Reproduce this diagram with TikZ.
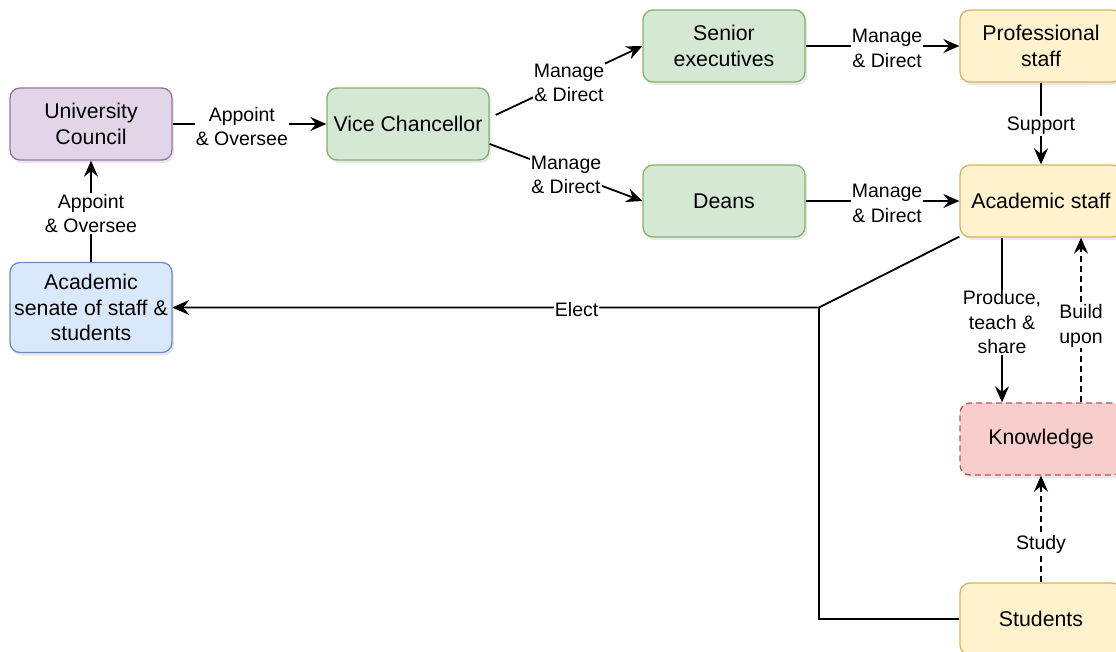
\documentclass[tikz,border=0pt]{standalone}
\usepackage{fontspec}
\setmainfont{Liberation Sans}
\usetikzlibrary{arrows.meta,shadows,calc}
\definecolor{pF}{HTML}{E1D5E7}\definecolor{pD}{HTML}{9673A6}
\definecolor{gF}{HTML}{D5E8D4}\definecolor{gD}{HTML}{82B366}
\definecolor{bF}{HTML}{DAE8FC}\definecolor{bD}{HTML}{6C8EBF}
\definecolor{yF}{HTML}{FFF2CC}\definecolor{yD}{HTML}{D6B656}
\definecolor{rF}{HTML}{F8CECC}\definecolor{rD}{HTML}{B85450}
\begin{document}
\begin{tikzpicture}[x=1pt,y=-1pt,
  box/.style={draw, rounded corners=10pt, line width=1.3pt, minimum width=162pt,
    minimum height=72pt, align=center, inner sep=2pt,
    font=\fontsize{21.3}{25.6}\selectfont,
    drop shadow={opacity=0.18,shadow xshift=2pt,shadow yshift=-3pt}},
  purplebox/.style={box, fill=pF, draw=pD},
  greenbox/.style={box, fill=gF, draw=gD},
  bluebox/.style={box, fill=bF, draw=bD},
  yellowbox/.style={box, fill=yF, draw=yD},
  redbox/.style={box, fill=rF, draw=rD, dash pattern=on 6pt off 4pt},
  conn/.style={line width=1.8pt, -{Stealth[length=16pt,width=14pt,inset=5.5pt]}},
  dconn/.style={conn, dash pattern=on 6pt off 4pt},
  lbl/.style={fill=white, inner sep=1pt, align=center, yshift=-2.5pt,
    font=\fontsize{19.5}{24.5}\selectfont}
]
\useasboundingbox (0,0) rectangle (1116,652);

\node[purplebox] (uc) at (91,124) {University\\Council};
\node[greenbox] (vc) at (408,124) {Vice Chancellor};
\node[greenbox] (se) at (724,46) {Senior\\executives};
\node[greenbox] (dn) at (724,201) {Deans};
\node[yellowbox] (ps) at (1041,46) {Professional\\staff};
\node[yellowbox] (as) at (1041,201) {Academic staff};
\node[redbox] (kn) at (1041,439) {Knowledge};
\node[yellowbox] (st) at (1041,619) {Students};
\node[bluebox, minimum height=90pt] (sen) at (91,307.5) {Academic\\senate of staff \&\\students};

\coordinate (j) at (819,307.5);
\coordinate (jb) at (819,619);

\draw[conn] (uc) -- node[lbl, pos=0.45] {Appoint\\\& Oversee} (vc);
\draw[conn] (sen) -- node[lbl] {Appoint\\\& Oversee} (uc);
\draw[conn] ($(vc.east)+(6,-9)$) -- node[lbl] {Manage\\\& Direct} (se.west);
\draw[conn] ($(vc.east)+(0,20)$) -- node[lbl] {Manage\\\& Direct} (dn.west);
\draw[conn] (se) -- node[lbl, pos=0.53] {Manage\\\& Direct} (ps);
\draw[conn] (dn) -- node[lbl, pos=0.53] {Manage\\\& Direct} (as);
\draw[conn] (ps) -- node[lbl] {Support} (as);
\draw[conn] ($(as.south)+(-39,0)$) -- node[lbl] {Produce,\\teach \&\\share} ($(kn.north)+(-39,0)$);
\draw[dconn] ($(kn.north)+(40,0)$) -- node[lbl, pos=0.48] {Build\\upon} ($(as.south)+(40,0)$);
\draw[dconn] (st) -- node[lbl, pos=0.38] {Study} (kn);
\draw[conn] (st.west) -- (jb) -- (j) -- (sen.east);
\draw[conn] ($(as.south west)+(0,-1)$) -- (j) -- node[lbl, pos=0.375, yshift=0.5pt] {Elect} (sen.east);
\end{tikzpicture}
\end{document}
